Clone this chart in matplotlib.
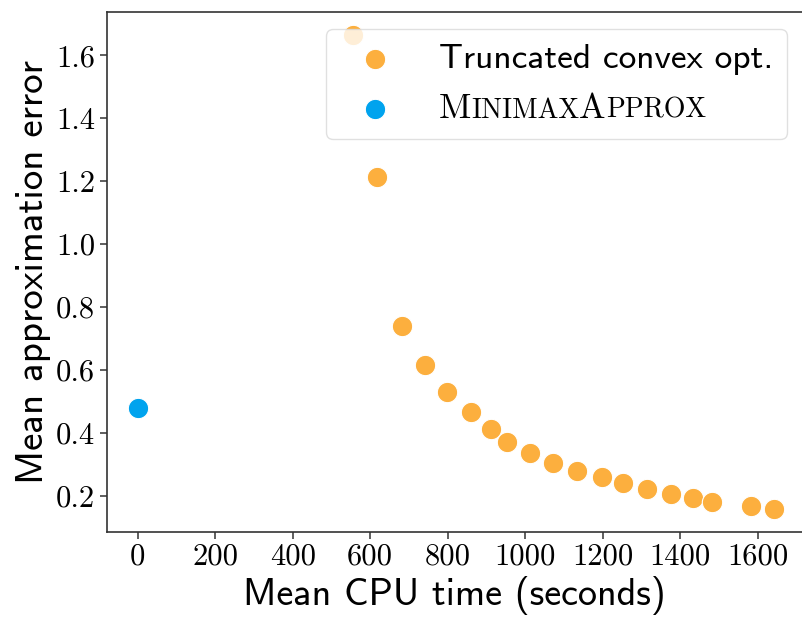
import matplotlib
matplotlib.use('Agg')
import matplotlib.pyplot as plt
from matplotlib.offsetbox import TextArea, HPacker, AnnotationBbox

# mean CPU time (s) and mean approximation error
trunc_time = [556, 617, 681, 741, 797, 860, 911, 952, 1012, 1072,
              1133, 1199, 1252, 1313, 1375, 1434, 1483, 1582, 1642]
trunc_err = [1.666, 1.215, 0.741, 0.617, 0.532, 0.466, 0.413, 0.371, 0.336, 0.306,
             0.280, 0.259, 0.240, 0.222, 0.206, 0.193, 0.182, 0.168, 0.158]
minimax_time = [2]
minimax_err = [0.479]

x_ticks = [0, 200, 400, 600, 800, 1000, 1200, 1400, 1600]
y_ticks = [0.2, 0.4, 0.6, 0.8, 1.0, 1.2, 1.4, 1.6]

plt.rcParams['axes.unicode_minus'] = False

fig = plt.figure(figsize=(8.02, 6.18), dpi=100)
# the original is cut off on the right, so the axes run to the figure edge
ax = fig.add_axes([107 / 802, 86.3 / 618, 695 / 802, 520 / 618])

ax.scatter(trunc_time, trunc_err, s=215, color='#FCAF3E', edgecolor='white',
           linewidth=0.8, label='Truncated convex opt.', zorder=3)
ax.scatter(minimax_time, minimax_err, s=215, color='#00A3EE', edgecolor='white',
           linewidth=0.8, label='MinimaxApprox', zorder=3)

ax.set_xlim(-79, 1714)
ax.set_ylim(0.0865, 1.739)
ax.set_xticks(x_ticks)
ax.set_yticks(y_ticks)
ax.set_xticklabels([str(v) for v in x_ticks], family='cmr10', fontsize=22)
ax.set_yticklabels(['%.1f' % v for v in y_ticks], family='cmr10', fontsize=22)
ax.tick_params(length=5, width=1.1, color='#333333')
for sp in ax.spines.values():
    sp.set_color('#333333')
    sp.set_linewidth(1.2)
ax.spines['right'].set_visible(False)

ax.set_xlabel('Mean CPU time (seconds)', family='cmss10', fontsize=27.5)
ax.set_ylabel('Mean approximation error', family='cmss10', fontsize=28)

leg = ax.legend(loc='upper right', bbox_to_anchor=(1.0043, 1.0),
                prop={'family': 'cmss10', 'size': 25.5}, borderaxespad=0.5,
                edgecolor='0.85', scatterpoints=1)
leg.set_zorder(5)
txt = leg.get_texts()[1]
txt.set_text(' ')

# small caps label drawn where the second legend label sits
big = dict(family='cmr10', size=25.5, color='black')
small = dict(family='cmr10', size=20, color='black')
parts = [TextArea('M', textprops=big), TextArea('INIMAX', textprops=small),
         TextArea('A', textprops=big), TextArea('PPROX', textprops=small)]
box = HPacker(children=parts, align='baseline', pad=0, sep=0)
ab = AnnotationBbox(box, (0, 0), xycoords=txt, box_alignment=(0, 0),
                    frameon=False, pad=0, zorder=6)
ax.add_artist(ab)

fig.savefig('out.png', dpi=100)
